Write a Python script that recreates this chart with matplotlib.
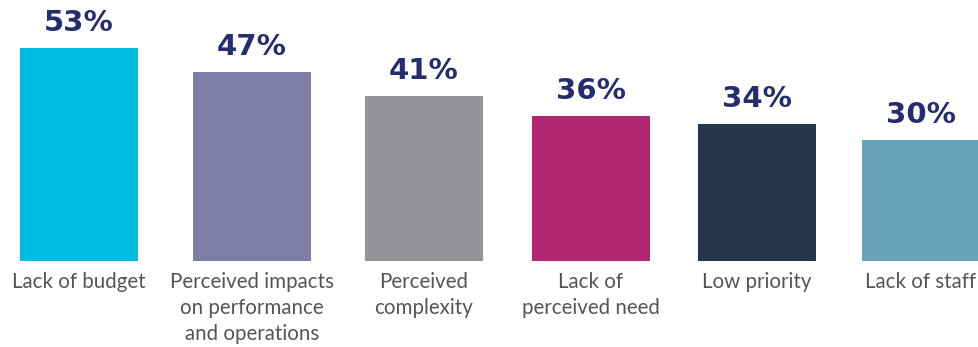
import matplotlib.pyplot as plt

categories = [
    "Lack of budget",
    "Perceived impacts\non performance\nand operations",
    "Perceived\ncomplexity",
    "Lack of\nperceived need",
    "Low priority",
    "Lack of staff",
]
values = [53, 47, 41, 36, 34, 30]
colors = ["#00BAE0", "#7D7DA8", "#939598", "#B1276F", "#243748", "#68A2BA"]

# bar centres in pixels (layout only, the original spacing is uneven)
centers = [79, 252, 424, 591, 757, 921]

fig = plt.figure(figsize=(9.79, 3.47), dpi=100)
ax = fig.add_axes([0, 86 / 347, 1, 261 / 347])

ax.bar(centers, values, width=118, color=colors)

ax.set_xlim(0, 979)
ax.set_ylim(0, 64.9)
ax.axis("off")

for xi, v in zip(centers, values):
    ax.annotate(f"{v}%", (xi, v), xytext=(0, 8), textcoords="offset points",
                ha="center", va="bottom", fontsize=21, fontweight="bold",
                color="#262D6E", family="DejaVu Sans")

for xi, label in zip(centers, categories):
    ax.annotate(label, (xi, 0), xytext=(0, -8), textcoords="offset points",
                ha="center", va="top", fontsize=14.8, color="#555555",
                family="Lato", linespacing=1.38)

fig.savefig("out.png", dpi=100)
